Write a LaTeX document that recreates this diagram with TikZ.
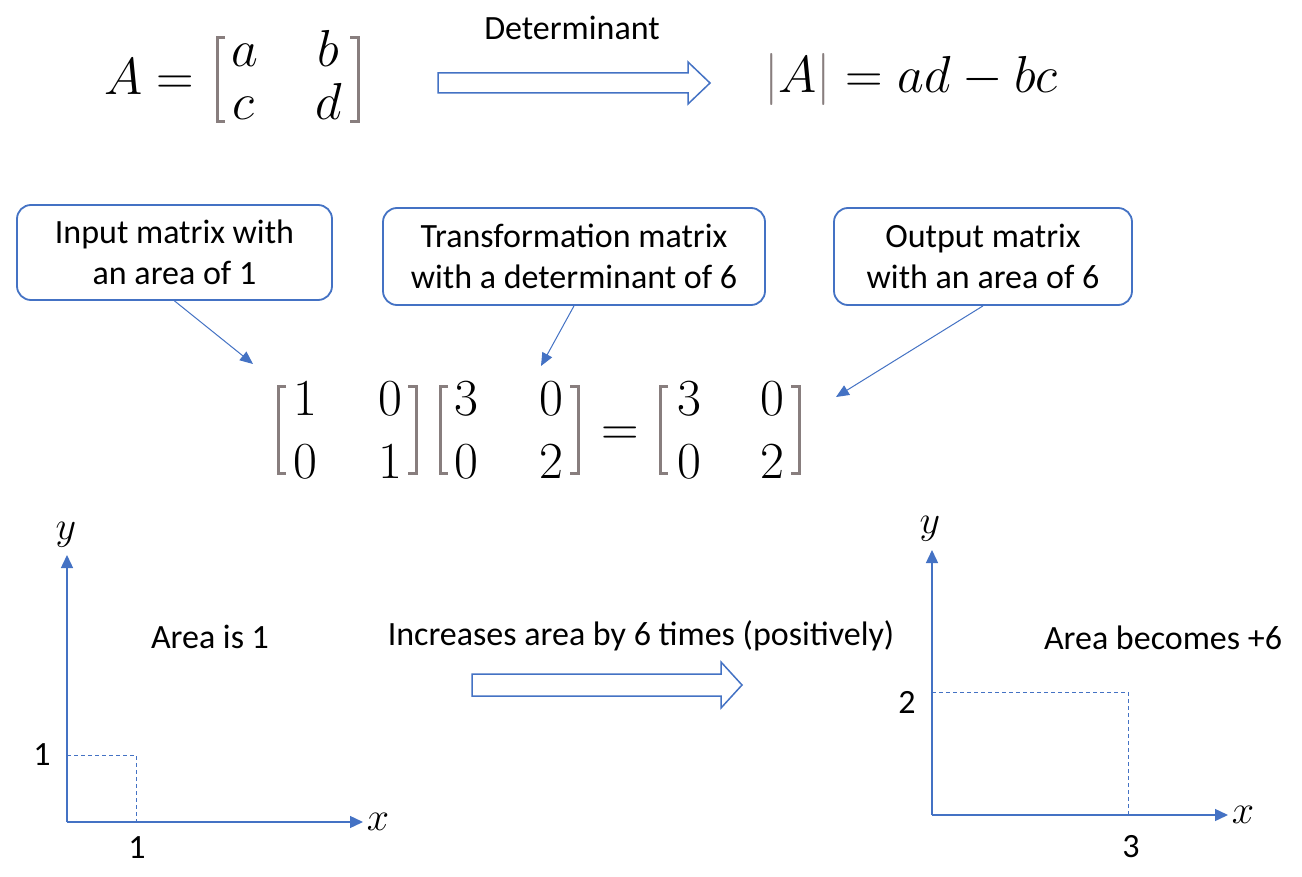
\RequirePackage{fix-cm}
\documentclass[tikz,border=0pt]{standalone}
\usepackage[no-math]{fontspec}
\newfontfamily\calib{Carlito}
\usetikzlibrary{arrows.meta}
\definecolor{blueo}{RGB}{68,114,196}
\definecolor{brkgray}{RGB}{136,126,126}
\tikzset{
  txt/.style={font=\calib\fontsize{34}{41}\selectfont, inner sep=0pt, anchor=base, align=center},
  callout/.style={draw=blueo, line width=1.8pt, rounded corners=14pt, fill=white,
                  font=\calib\fontsize{34}{41}\selectfont, align=center, inner sep=0pt},
  pointer/.style={draw=blueo, line width=1pt, -{Triangle[length=13pt,width=11pt]}},
  axis/.style={draw=blueo, line width=1.4pt, -{Triangle[length=13pt,width=12pt]}},
  guide/.style={draw=blueo, line width=0.9pt, dash pattern=on 4pt off 3pt},
  brk/.style={draw=brkgray, line width=3pt},
  bigmath/.style={font=\fontsize{52}{60}\selectfont, inner sep=0pt, anchor=base},
  axlab/.style={font=\fontsize{40}{48}\selectfont, inner sep=0pt, anchor=base},
  blockarrow/.style={draw=blueo, line width=1.5pt, fill=white, line join=miter}
}
\newcommand\mybrk[4]{%
  \draw[brk] (#1+8,#3) -- (#1,#3) -- (#1,#4) -- (#1+8,#4);
  \draw[brk] (#2-8,#3) -- (#2,#3) -- (#2,#4) -- (#2-8,#4);
}
\begin{document}
\begin{tikzpicture}[x=1pt,y=-1pt]
\useasboundingbox[fill=white] (0,0) rectangle (1302,877);

% ---------- top row ----------
\node[bigmath, anchor=base west] (Aeq) at (104,95) {$A=$};
\node[bigmath] (ma) at (244.5,67) {$a$};
\node[bigmath] (mb) at (328.5,67) {$b$};
\node[bigmath] (mc) at (243.5,120) {$c$};
\node[bigmath] (md) at (328.5,120) {$d$};
\mybrk{217}{358}{38}{122}

\node[txt] (det) at (572,40) {Determinant};
\draw[blockarrow] (438,73) -- (688,73) -- (688,62) -- (710,83) -- (688,104) -- (688,93) -- (438,93) -- cycle;

\node[bigmath, anchor=base west] (detres) at (764,93)
  {$\textcolor{brkgray}{|}A\textcolor{brkgray}{|}=ad-bc$};

% ---------- callouts ----------
\node[callout, minimum width=315pt, minimum height=95pt] (c1) at (174.5,252.5)
  {Input matrix with\\an area of 1};
\node[callout, minimum width=382pt, minimum height=97pt] (c2) at (574,256.5)
  {Transformation matrix\\with a determinant of 6};
\node[callout, minimum width=298pt, minimum height=97pt] (c3) at (983,256.5)
  {Output matrix\\with an area of 6};

\coordinate (t1) at (253,364);
\coordinate (t2) at (541,366);
\coordinate (t3) at (836,397);
\draw[pointer] (c1.south) -- (t1);
\draw[pointer] (c2.south) -- (t2);
\draw[pointer] (c3.south) -- (t3);

% ---------- matrix product ----------
\node[bigmath] (p11) at (305,415) {$1$};
\node[bigmath] (p12) at (390,415) {$0$};
\node[bigmath] (p21) at (305,478) {$0$};
\node[bigmath] (p22) at (390,478) {$1$};
\mybrk{278}{416}{387}{473}

\node[bigmath] (q11) at (466,415) {$3$};
\node[bigmath] (q12) at (551,415) {$0$};
\node[bigmath] (q21) at (466,478) {$0$};
\node[bigmath] (q22) at (551,478) {$2$};
\mybrk{440}{578}{387}{473}

\node[bigmath] (eq) at (620,446) {$=$};

\node[bigmath] (r11) at (689,415) {$3$};
\node[bigmath] (r12) at (772,415) {$0$};
\node[bigmath] (r21) at (689,478) {$0$};
\node[bigmath] (r22) at (772,478) {$2$};
\mybrk{660}{799}{387}{473}

% ---------- left plot ----------
\coordinate (o1) at (67,822);
\coordinate (y1) at (67,555);
\coordinate (x1) at (363,822);
\draw[guide] (67,755) -- (136,755) -- (136,822);
\draw[axis] (o1) -- (y1);
\draw[axis] (o1) -- (x1);
\node[axlab] (ly1) at (66,539) {$y$};
\node[axlab] (lx1) at (378,830) {$x$};
\node[txt] (one1) at (42,765) {1};
\node[txt] (one2) at (137,858) {1};
\node[txt] (area1) at (210,648) {Area is 1};

% ---------- middle arrow ----------
\node[txt] (inc) at (641,645) {Increases area by 6 times (positively)};
\draw[blockarrow] (472,674) -- (721,674) -- (721,662) -- (742,685) -- (721,708) -- (721,696) -- (472,696) -- cycle;

% ---------- right plot ----------
\coordinate (o2) at (932,815);
\coordinate (y2) at (932,550);
\coordinate (x2) at (1228,815);
\draw[guide] (932,692) -- (1128,692) -- (1128,815);
\draw[axis] (o2) -- (y2);
\draw[axis] (o2) -- (x2);
\node[axlab] (ly2) at (930,533) {$y$};
\node[axlab] (lx2) at (1243,823) {$x$};
\node[txt] (two) at (907,713) {2};
\node[txt] (three) at (1131,857) {3};
\node[txt] (area2) at (1163,649) {Area becomes +6};
\end{tikzpicture}
\end{document}
